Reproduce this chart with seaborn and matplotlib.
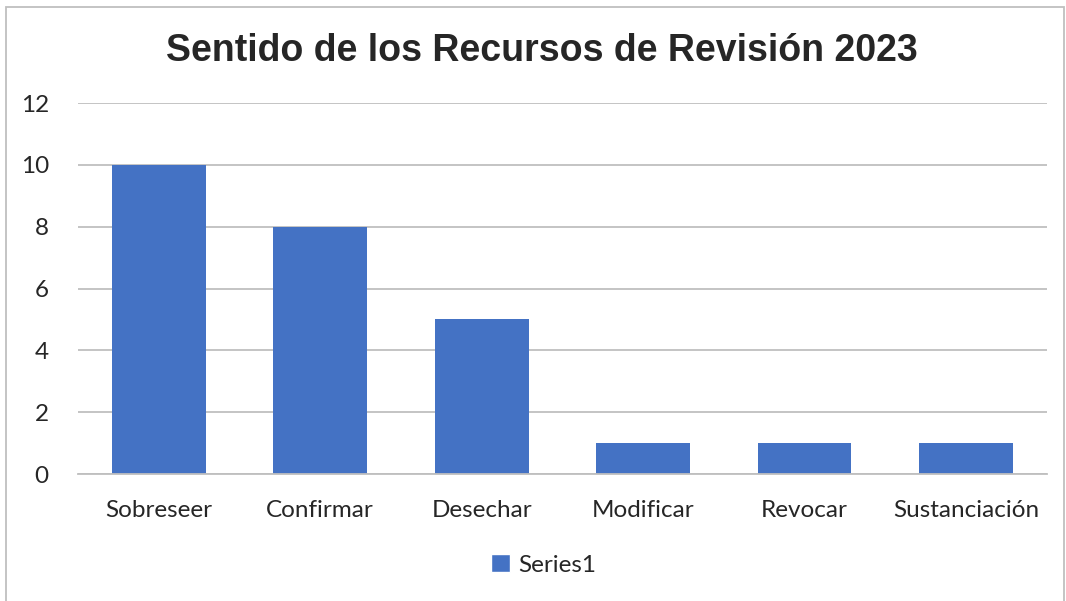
import matplotlib
matplotlib.use("Agg")
import matplotlib.pyplot as plt
import seaborn as sns
import pandas as pd
from matplotlib.patches import Rectangle, Patch

# data
categories = ["Sobreseer", "Confirmar", "Desechar", "Modificar", "Revocar", "Sustanciación"]
values = [10, 8, 5, 1, 1, 1]
y_ticks = [0, 2, 4, 6, 8, 10, 12]

df = pd.DataFrame({"categoria": categories, "valor": values})

sns.set_theme(style="white")
plt.rcParams["font.family"] = ["Lato", "DejaVu Sans"]

fig = plt.figure(figsize=(10.66, 6.01), dpi=100)
ax = fig.add_axes([0.0732, 0.2113, 0.9088, 0.6173])

sns.barplot(data=df, x="categoria", y="valor", color="#4472C4", width=0.58,
            saturation=1, linewidth=0, ax=ax)

ax.set_ylim(0, 12)
ax.set_yticks(y_ticks)
ax.set_xlim(-0.5, len(categories) - 0.5)
ax.yaxis.grid(True, color="#BFBFBF", linewidth=1.3)
ax.set_axisbelow(True)
for s in ["top", "right", "left"]:
    ax.spines[s].set_visible(False)
ax.spines["bottom"].set_color("#BFBFBF")
ax.spines["bottom"].set_linewidth(1.3)
ax.tick_params(axis="both", length=0, labelsize=17.5, colors="#262626")
ax.tick_params(axis="x", pad=19)
ax.tick_params(axis="y", pad=21)
ax.set_xlabel("")
ax.set_ylabel("")

fig.text(0.5085, 0.915, "Sentido de los Recursos de Revisión 2023", ha="center", va="center",
         fontsize=27, fontweight="bold", family=["Liberation Sans", "DejaVu Sans"],
         color="#262626")

handles = [Patch(facecolor="#4472C4", label="Series1")]
fig.legend(handles=handles, loc="center", bbox_to_anchor=(0.51, 0.06), frameon=False,
           fontsize=17.5, handlelength=0.75, handleheight=0.75, handletextpad=0.35,
           labelcolor="#262626")

# outer frame
fig.patches.append(Rectangle((0.0056, -0.01), 0.9925, 0.998, transform=fig.transFigure,
                             fill=False, edgecolor="#BFBFBF", linewidth=1.3))

fig.savefig("out.png", dpi=100)
